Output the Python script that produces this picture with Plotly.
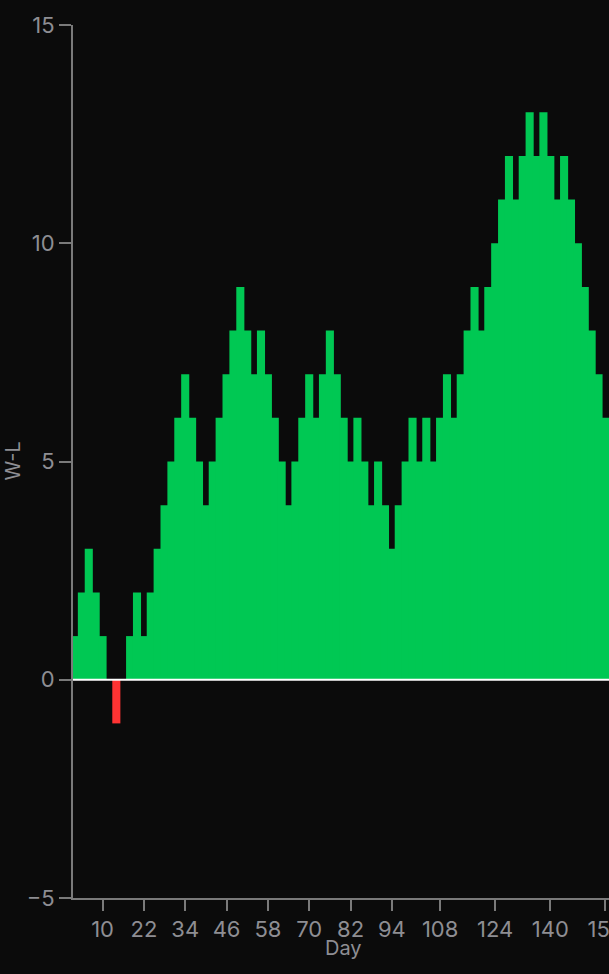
import plotly.graph_objects as go

# Day of each bar (every other day) and cumulative W-L value
days = list(range(2, 157, 2))
wl = [1, 2, 3, 2, 1, 0, -1, 0, 1, 2,
      1, 2, 3, 4, 5, 6, 7, 6, 5, 4,
      5, 6, 7, 8, 9, 8, 7, 8, 7, 6,
      5, 4, 5, 6, 7, 6, 7, 8, 7, 6,
      5, 6, 5, 4, 5, 4, 3, 4, 5, 6,
      5, 6, 5, 6, 7, 6, 7, 8, 9, 8,
      9, 10, 11, 12, 11, 12, 13, 12, 13, 12,
      11, 12, 11, 10, 9, 8, 7, 6]

x_ticks = [10, 22, 34, 46, 58, 70, 82, 94, 108, 124, 140, 156]
y_ticks = [-5, 0, 5, 10, 15]

GREEN = "#00C853"
RED = "#FF3333"
BG = "#0b0b0b"
AXIS = "#7a7a7a"
TXT = "#8e8e93"

colors = [GREEN if v >= 0 else RED for v in wl]

fig = go.Figure(go.Bar(
    x=days, y=wl, width=2.35,
    marker=dict(color=colors, line=dict(width=0)),
    hoverinfo="x+y",
))

fig.update_layout(
    width=635, height=974,
    margin=dict(l=73, r=20, t=18, b=76),
    paper_bgcolor=BG, plot_bgcolor=BG,
    showlegend=False,
    font=dict(family="Inter, Roboto, sans-serif", color=TXT, size=22),
    xaxis=dict(
        range=[1.42, 158.2],
        tickvals=x_ticks,
        ticktext=[str(t) for t in x_ticks],
        ticks="outside", ticklen=11, tickwidth=2, tickcolor=AXIS,
        showline=True, linecolor=AXIS, linewidth=2,
        showgrid=False, zeroline=False,
        tickfont=dict(size=22, color=TXT),
    ),
    yaxis=dict(
        range=[-5, 15],
        tickvals=y_ticks,
        ticks="outside", ticklen=12, tickwidth=2, tickcolor=AXIS,
        showline=True, linecolor=AXIS, linewidth=2,
        showgrid=False, zeroline=False,
        tickfont=dict(size=22, color=TXT),
    ),
    shapes=[dict(type="line", xref="paper", x0=0, x1=1, yref="y", y0=0, y1=0,
                 line=dict(color="#ffffff", width=2), layer="above")],
    annotations=[
        dict(text="W-L", xref="paper", yref="paper", x=0, y=0.5, xshift=-61,
             xanchor="center", yanchor="middle",
             showarrow=False, textangle=-90, font=dict(size=20, color=TXT)),
        dict(text="Day", xref="paper", yref="paper", x=0.5, y=0, yshift=-50,
             xanchor="center", yanchor="middle",
             showarrow=False, font=dict(size=20, color=TXT)),
    ],
)

fig.write_html(
    "out.html",
    config={"displayModeBar": False},
    post_script="document.body.style.margin='0';"
                "document.body.style.overflow='hidden';"
                "document.body.style.background='#0b0b0b';",
)
